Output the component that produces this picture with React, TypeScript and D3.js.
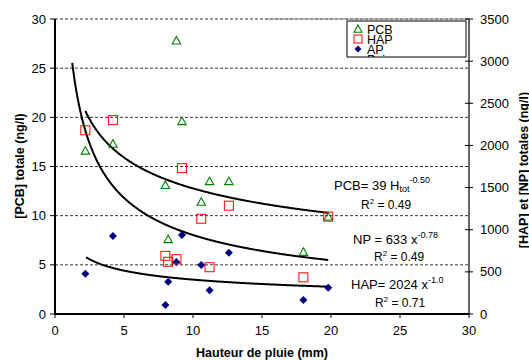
import React from "react";
import * as d3 from "d3";

const rainfall = [2.2, 4.2, 8.0, 8.2, 8.8, 9.2, 10.6, 11.2, 12.6, 18.0, 19.8];
const pcb = [16.6, 17.3, 13.1, 7.6, 27.8, 19.6, 11.4, 13.5, 13.5, 6.3, 9.9];
const hap = [2180, 2300, 690, 620, 650, 1730, 1130, 555, 1285, 435, 1155];
const np = [478, 925, 107, 383, 617, 937, 581, 281, 727, 166, 312];

const xTicks = [0, 5, 10, 15, 20, 25, 30];
const leftTicks = [0, 5, 10, 15, 20, 25, 30];
const rightTicks = [0, 500, 1000, 1500, 2000, 2500, 3000, 3500];

// power-law trend lines y = a * x^-b
const fitPcb = { a: 26.5, b: 0.317, from: 2.2, to: 19.8 };
const fitHap = { a: 3372, b: 0.556, from: 1.25, to: 19.8 };
const fitNp = { a: 884, b: 0.336, from: 2.25, to: 19.8 };

const legendLabels = ["PCB", "HAP", "AP", "Puissance"];

const FONT = "Liberation Sans, Arial, sans-serif";

export default function App() {
  const W = 529, H = 360;
  const L = 55, R = 469, T = 19, B = 314;
  const x = d3.scaleLinear().domain([0, 30]).range([L, R]);
  const yL = d3.scaleLinear().domain([0, 30]).range([B, T]);
  const yR = d3.scaleLinear().domain([0, 3500]).range([B, T]);

  const curve = (f: any, ys: any) => {
    const pts = d3.range(f.from, f.to + 0.001, 0.05).map((v) => [v, f.a * Math.pow(v, -f.b)]);
    return d3.line<number[]>().x((d) => x(d[0])).y((d) => ys(d[1]))(pts) || "";
  };

  const tri = (cx: number, cy: number, s = 4.2) =>
    `M${cx},${cy - s}L${cx + s},${cy + s * 0.8}L${cx - s},${cy + s * 0.8}Z`;
  const dia = (cx: number, cy: number, s = 4) =>
    `M${cx},${cy - s}L${cx + s},${cy}L${cx},${cy + s}L${cx - s},${cy}Z`;

  return (
    <svg width={W} height={H} style={{ position: "absolute", left: 0, top: 0, background: "#fff" }} fontFamily={FONT}>
      <defs>
        <clipPath id="legclip">
          <rect x={347} y={21} width={119} height={36} />
        </clipPath>
      </defs>
      {/* gridlines */}
      {leftTicks.filter((t) => t > 0).map((t) => (
        <line key={t} x1={L} x2={R} y1={yL(t)} y2={yL(t)} stroke="#000" strokeWidth={0.8} strokeDasharray="3,2" />
      ))}
      <line x1={265} x2={R} y1={T} y2={T} stroke="#888" strokeWidth={1} />

      {/* trend curves */}
      <path d={curve(fitHap, yR)} fill="none" stroke="#000" strokeWidth={2} />
      <path d={curve(fitPcb, yL)} fill="none" stroke="#000" strokeWidth={2} />
      <path d={curve(fitNp, yR)} fill="none" stroke="#000" strokeWidth={2} />

      {/* points */}
      {rainfall.map((r, i) => (
        <path key={"n" + i} d={dia(x(r), yR(np[i]))} fill="#000080" />
      ))}
      {rainfall.map((r, i) => (
        <rect key={"h" + i} x={x(r) - 4.5} y={yR(hap[i]) - 4.5} width={9} height={9} fill="none" stroke="#ff0000" strokeWidth={1} />
      ))}
      {rainfall.map((r, i) => (
        <path key={"p" + i} d={tri(x(r), yL(pcb[i]))} fill="none" stroke="#008000" strokeWidth={1.1} />
      ))}

      {/* axes */}
      <line x1={L} x2={L} y1={T} y2={B} stroke="#000" strokeWidth={2} />
      <line x1={L} x2={R} y1={B} y2={B} stroke="#000" strokeWidth={2} />
      <line x1={R} x2={R} y1={T} y2={B} stroke="#000" strokeWidth={1.2} />
      {leftTicks.map((t) => (
        <g key={"lt" + t}>
          <line x1={L - 5} x2={L} y1={yL(t)} y2={yL(t)} stroke="#000" strokeWidth={1} />
          <text x={L - 9} y={yL(t)} dy="0.35em" textAnchor="end" fontSize={13}>{t}</text>
        </g>
      ))}
      {rightTicks.map((t) => (
        <g key={"rt" + t}>
          <line x1={R - 4} x2={R + 4} y1={yR(t)} y2={yR(t)} stroke="#000" strokeWidth={1} />
          <text x={R + 11} y={yR(t)} dy="0.35em" textAnchor="start" fontSize={13}>{t}</text>
        </g>
      ))}
      {xTicks.map((t) => (
        <g key={"xt" + t}>
          <line x1={x(t)} x2={x(t)} y1={B} y2={B + 4} stroke="#000" strokeWidth={1} />
          <text x={x(t)} y={B + 21} textAnchor="middle" fontSize={13}>{t}</text>
        </g>
      ))}

      {/* axis titles */}
      <text x={262} y={357} textAnchor="middle" fontSize={12.5} fontWeight="bold">Hauteur de pluie (mm)</text>
      <text transform="translate(24,166) rotate(-90)" textAnchor="middle" fontSize={12.5} fontWeight="bold">[PCB] totale (ng/l)</text>
      <text transform="translate(528,170) rotate(-90)" textAnchor="middle" fontSize={12.5} fontWeight="bold">[HAP] et [NP] totales (ng/l)</text>

      {/* equations */}
      <text x={334} y={190} fontSize={13}>
        PCB= 39 H<tspan fontSize={9} dy={2}>tot</tspan><tspan fontSize={9} dy={-9}>-0.50</tspan>
      </text>
      <text x={361} y={209} fontSize={12}>
        R<tspan fontSize={8} dy={-5}>2</tspan><tspan dy={5}> = 0.49</tspan>
      </text>
      <text x={353} y={244} fontSize={13}>
        NP = 633 x<tspan fontSize={9} dy={-6}>-0.78</tspan>
      </text>
      <text x={374} y={261} fontSize={12}>
        R<tspan fontSize={8} dy={-5}>2</tspan><tspan dy={5}> = 0.49</tspan>
      </text>
      <text x={351} y={289} fontSize={13}>
        HAP= 2024 x<tspan fontSize={9} dy={-6}>-1.0</tspan>
      </text>
      <text x={375} y={307} fontSize={12}>
        R<tspan fontSize={8} dy={-5}>2</tspan><tspan dy={5}> = 0.71</tspan>
      </text>

      {/* legend */}
      <rect x={347} y={21} width={119} height={36} fill="#fff" stroke="#000" strokeWidth={1} />
      <g clipPath="url(#legclip)">
        {legendLabels.map((lab, i) => {
          const cy = 29 + i * 10;
          return (
            <g key={lab}>
              {i === 0 && <path d={tri(358, cy, 4)} fill="none" stroke="#008000" strokeWidth={1.1} />}
              {i === 1 && <rect x={354} y={cy - 4} width={8} height={8} fill="none" stroke="#ff0000" strokeWidth={1} />}
              {i === 2 && <path d={dia(358, cy, 3.5)} fill="#000080" />}
              <text x={367} y={cy} dy="0.38em" fontSize={12.5}>{lab}</text>
            </g>
          );
        })}
      </g>
    </svg>
  );
}
